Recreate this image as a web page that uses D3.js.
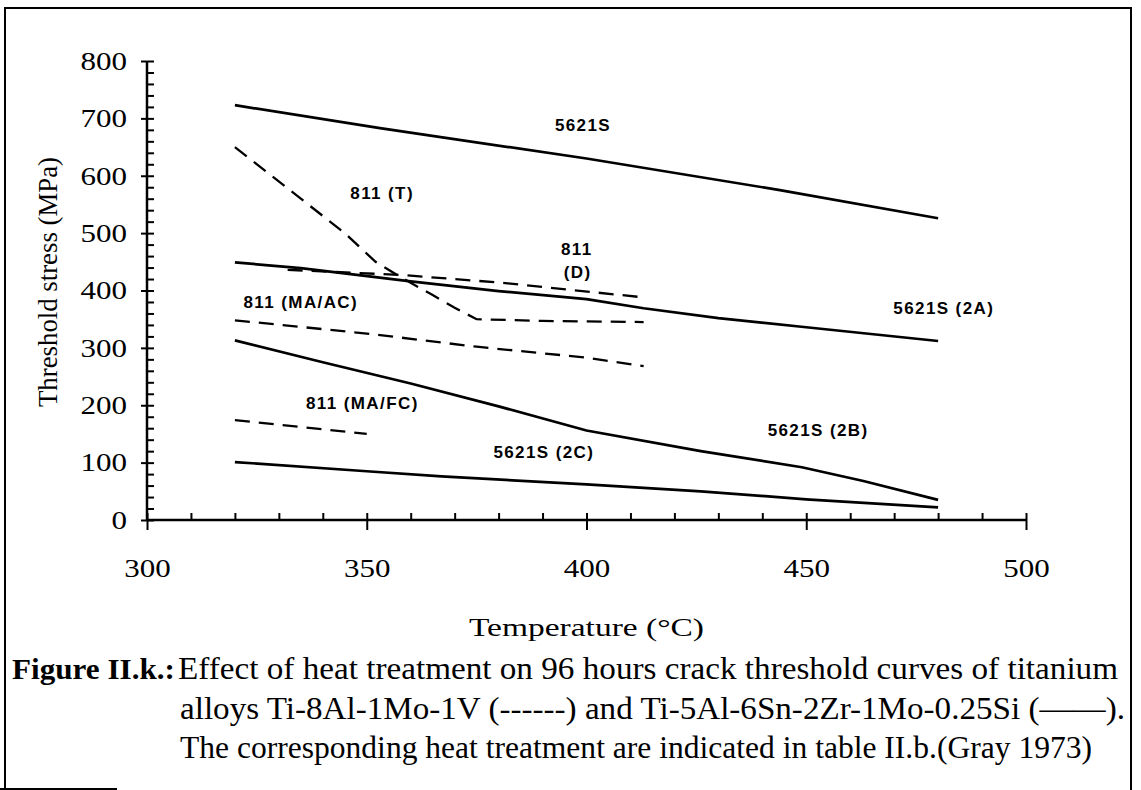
<!DOCTYPE html>
<html><head><meta charset="utf-8">
<script src="https://cdn.jsdelivr.net/npm/d3@7"></script>
<style>body{margin:0;background:#fff}svg{display:block}</style>
</head><body>
<svg id="c" width="1141" height="790"></svg>
<script>
// ---- data ----
const xTicks = [300, 350, 400, 450, 500];
const yTicks = [0, 100, 200, 300, 400, 500, 600, 700, 800];
const s5621S   = [[320,723],[353,683],[400,630],[444,575],[480,526]];
const s5621S2A = [[320,449],[335,439],[360,416],[380,399],[400,385],[413,369],[430,352],[450,336],[480,312]];
const s5621S2B = [[320,313],[340,275],[360,238],[380,198],[400,156],[426,120],[449,92],[463,68],[480,35]];
const s5621S2C = [[320,101],[350,85],[367,76],[400,62],[426,50],[450,36],[480,22]];
const s811T    = [[320,650],[335,560],[345,500],[352,450],[358,422],[365,392],[370,370],[375,350],[390,347],[413,345]];
const s811D    = [[332,436],[358,427],[380,414],[413,388]];
const s811MAAC = [[320,348],[350,325],[375,302],[400,283],[413,268]];
const s811MAFC = [[320,174],[350,150]];
const labels = [
  {t:"5621S", x:399.2, y:688},
  {t:"811 (T)", x:353.5, y:570},
  {t:"811", x:397.8, y:472},
  {t:"(D)", x:398, y:432},
  {t:"5621S (2A)", x:481.3, y:369},
  {t:"811 (MA/AC)", x:335, y:380},
  {t:"811 (MA/FC)", x:349, y:204},
  {t:"5621S (2B)", x:452.7, y:157},
  {t:"5621S (2C)", x:390.3, y:118}
];
const caption = [
  "Effect of heat treatment on 96 hours crack threshold curves of titanium",
  "alloys Ti-8Al-1Mo-1V (------) and Ti-5Al-6Sn-2Zr-1Mo-0.25Si (\u2014\u2014).",
  "The corresponding heat treatment are indicated in table II.b.(Gray 1973)"
];

// ---- drawing ----
const svg = d3.select("#c");
const x = d3.scaleLinear().domain([300, 500]).range([147, 1026]);
const y = d3.scaleLinear().domain([0, 800]).range([520, 61]);

// frame
const fr = svg.append("g").attr("stroke", "#000").attr("stroke-width", 2).attr("fill", "none");
fr.append("path").attr("d", "M5,789 L5,8 L1131,8 L1131,790");
fr.append("line").attr("x1", 0).attr("x2", 117).attr("y1", 789).attr("y2", 789);

const serif = "'Liberation Serif','Times New Roman',serif";
const sans = "'Liberation Sans',Arial,sans-serif";

// y axis
const yMinor = d3.range(0, 801, 20);
const ga = svg.append("g");
const yl = ga.append("g").attr("transform", `translate(${x(300)},0)`)
  .call(d3.axisLeft(y).tickValues(yTicks).tickSize(6).tickPadding(14));
const yr = ga.append("g").attr("transform", `translate(${x(300)},0)`)
  .call(d3.axisRight(y).tickValues(yMinor).tickSize(7).tickFormat(""));
// x axis
const xMinor = d3.range(300, 501, 10);
const xb = ga.append("g").attr("transform", `translate(0,${y(0)})`)
  .call(d3.axisBottom(x).tickValues(xTicks).tickSize(10).tickPadding(29));
const xt = ga.append("g").attr("transform", `translate(0,${y(0)})`)
  .call(d3.axisTop(x).tickValues(xMinor).tickSize(7).tickFormat(""));
ga.selectAll(".domain").attr("stroke", "#000").attr("stroke-width", 2.5);
ga.selectAll(".tick line").attr("stroke", "#000").attr("stroke-width", 2);
[yr, xt].forEach(g => g.select(".domain").remove());
ga.selectAll(".tick text").attr("font-family", serif).attr("font-size", 26).attr("fill", "#000")
  .attr("textLength", function () { return this.textContent.length * 15.5; })
  .attr("lengthAdjust", "spacingAndGlyphs");
yl.select(".domain").attr("d", `M0,${y(0)}V${y(800)}`);
xb.select(".domain").attr("d", `M${x(300)},0H${x(500)}`);

// lines
const line = d3.line().x(d => x(d[0])).y(d => y(d[1]));
const solid = [s5621S, s5621S2A, s5621S2B, s5621S2C];
const dashed = [s811T, s811D, s811MAAC, s811MAFC];
svg.append("g").selectAll("path").data(solid).join("path")
  .attr("d", line).attr("fill", "none").attr("stroke", "#000").attr("stroke-width", 2.7);
svg.append("g").selectAll("path").data(dashed).join("path")
  .attr("d", line).attr("fill", "none").attr("stroke", "#000").attr("stroke-width", 2.3)
  .attr("stroke-dasharray", "15,9");

// curve labels
svg.append("g").selectAll("text").data(labels).join("text")
  .attr("x", d => x(d.x)).attr("y", d => y(d.y)).attr("dy", "0.35em")
  .attr("text-anchor", "middle").attr("font-family", sans).attr("font-weight", "bold")
  .attr("font-size", 17).attr("letter-spacing", 1.4).attr("fill", "#000").text(d => d.t);

// axis titles
svg.append("text").attr("x", x(400)).attr("y", 636).attr("text-anchor", "middle")
  .attr("font-family", serif).attr("font-size", 26)
  .attr("textLength", 235).attr("lengthAdjust", "spacingAndGlyphs").text("Temperature (\u00B0C)");
svg.append("text").attr("transform", `translate(57,282) rotate(-90)`).attr("text-anchor", "middle")
  .attr("font-family", serif).attr("font-size", 27)
  .attr("textLength", 250).attr("lengthAdjust", "spacingAndGlyphs").text("Threshold stress (MPa)");

// caption
svg.append("text").attr("x", 12).attr("y", 679).attr("font-family", serif).attr("font-size", 30)
  .attr("font-weight", "bold").attr("textLength", 163).attr("lengthAdjust", "spacingAndGlyphs")
  .text("Figure II.k.:");
const capX = [178, 180, 180], capY = [679, 719, 758], capW = [940, 945, 912];
svg.append("g").selectAll("text").data(caption).join("text")
  .attr("x", (d, i) => capX[i]).attr("y", (d, i) => capY[i])
  .attr("font-family", serif).attr("font-size", 31)
  .attr("textLength", (d, i) => capW[i]).attr("lengthAdjust", "spacingAndGlyphs")
  .text(d => d);
</script>
</body></html>
